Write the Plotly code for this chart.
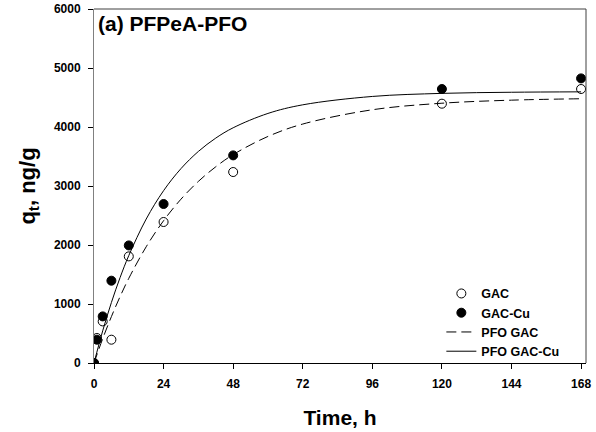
import plotly.graph_objects as go

# Experimental data
time_h = [0, 1, 3, 6, 12, 24, 48, 120, 168]
q_gac = [0, 424, 705, 395, 1807, 2390, 3237, 4395, 4644]
q_gac_cu = [0, 395, 790, 1395, 1993, 2695, 3519, 4644, 4824]

# PFO fit curves
fit_time = [0, 3, 6, 9, 12, 18, 24, 30, 36, 42, 48, 60, 72, 96, 120, 144, 168]
pfo_gac = [0, 412, 786, 1126, 1435, 1970, 2412, 2777, 3078, 3326, 3532, 3840, 4050, 4292, 4403, 4455, 4479]
pfo_gac_cu = [0, 545, 1025, 1448, 1821, 2440, 2921, 3295, 3586, 3812, 3987, 4230, 4376, 4518, 4570, 4589, 4596]

x_ticks = [0, 24, 48, 72, 96, 120, 144, 168]
y_ticks = [0, 1000, 2000, 3000, 4000, 5000, 6000]

FONT = "Liberation Sans, Arial, sans-serif"

fig = go.Figure()
fig.add_trace(go.Scatter(x=time_h, y=q_gac, mode="markers", name="<b>GAC</b>",
                         marker=dict(symbol="circle", size=9, color="white",
                                     line=dict(color="black", width=1))))
fig.add_trace(go.Scatter(x=time_h, y=q_gac_cu, mode="markers", name="<b>GAC-Cu</b>",
                         marker=dict(symbol="circle", size=9, color="black",
                                     line=dict(color="black", width=1))))
fig.add_trace(go.Scatter(x=fit_time, y=pfo_gac, mode="lines", name="<b>PFO GAC</b>",
                         line=dict(color="black", width=1, dash="10px,5px", shape="spline")))
fig.add_trace(go.Scatter(x=fit_time, y=pfo_gac_cu, mode="lines", name="<b>PFO GAC-Cu</b>",
                         line=dict(color="black", width=1, shape="spline")))

fig.update_layout(
    width=596, height=432,
    margin=dict(l=94, r=10, t=9, b=69, autoexpand=False),
    paper_bgcolor="white", plot_bgcolor="white",
    font=dict(family=FONT, color="black"),
    showlegend=True,
    legend=dict(x=0.706, y=-0.008, xanchor="left", yanchor="bottom",
                bgcolor="rgba(0,0,0,0)", font=dict(size=12.5, family=FONT),
                tracegroupgap=0, itemwidth=30),
    xaxis=dict(range=[0, 169.7], tickvals=x_ticks, ticks="outside", ticklen=5,
               tickcolor="black", showline=True, linecolor="black", linewidth=1,
               showgrid=False, zeroline=False, automargin=False,
               ticklabelstandoff=5,
               tickfont=dict(size=12, family=FONT, weight="bold"),
               title=dict(text="<b>Time, h</b>", font=dict(size=21), standoff=19)),
    yaxis=dict(range=[0, 6000], tickvals=y_ticks, ticks="outside", ticklen=5,
               tickcolor="black", showline=True, linecolor="#808080", linewidth=1,
               showgrid=False, zeroline=False, automargin=False,
               ticklabelstandoff=5,
               tickfont=dict(size=12, family=FONT, weight="bold"),
               title=dict(text="<b>q<sub>t</sub>, ng/g</b>", font=dict(size=22), standoff=12)),
    shapes=[
        dict(type="line", xref="paper", yref="paper", x0=0, x1=1, y0=1, y1=1,
             line=dict(color="#404040", width=1)),
        dict(type="line", xref="paper", yref="paper", x0=1, x1=1, y0=0, y1=1,
             line=dict(color="#404040", width=1)),
    ],
    annotations=[
        dict(text="<b>(a) PFPeA-PFO</b>", xref="paper", yref="paper", x=0.005, y=0.998,
             xanchor="left", yanchor="top", showarrow=False,
             font=dict(size=21, family=FONT, color="black")),
    ],
)

fig.write_html("out.html", config={"displayModeBar": False},
               post_script="document.body.style.margin='0';")
